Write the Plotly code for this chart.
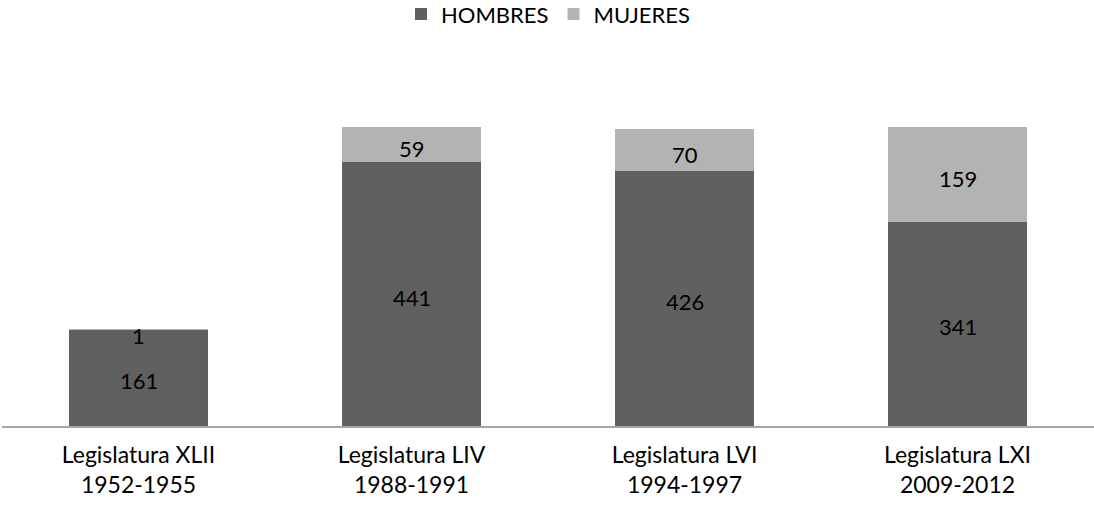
import plotly.graph_objects as go

categories = ["Legislatura XLII<br>1952-1955", "Legislatura LIV<br>1988-1991",
              "Legislatura LVI<br>1994-1997", "Legislatura LXI<br>2009-2012"]
hombres = [161, 441, 426, 341]
mujeres = [1, 59, 70, 159]

DARK = "#606060"
LIGHT = "#b3b3b3"
FONT = "Lato"

fig = go.Figure()
fig.add_trace(go.Bar(x=categories, y=hombres, name="HOMBRES", marker_color=DARK,
                     marker_line_width=0, width=0.51, hoverinfo="skip"))
fig.add_trace(go.Bar(x=categories, y=mujeres, name="MUJERES", marker_color=LIGHT,
                     marker_line_width=0, width=0.51, hoverinfo="skip"))

# value labels centred in each segment
for c, h, m in zip(categories, hombres, mujeres):
    fig.add_annotation(x=c, y=h / 2, text=str(h), showarrow=False, yshift=-3,
                       font=dict(family=FONT, size=22, color="#000000"))
    fig.add_annotation(x=c, y=h + m / 2, text=str(m), showarrow=False,
                       yshift=-6 if m < 10 else -4,
                       font=dict(family=FONT, size=22, color="#000000"))

fig.update_layout(
    width=1094, height=508,
    barmode="stack",
    paper_bgcolor="white", plot_bgcolor="white",
    margin=dict(l=2, r=0, t=67, b=82),
    font=dict(family=FONT, size=22, color="#000000"),
    legend=dict(orientation="h", x=0.5, xanchor="center", y=0.972, yanchor="middle",
                yref="container", traceorder="normal",
                font=dict(family=FONT, size=22, color="#000000"),
                itemwidth=30),
    xaxis=dict(showline=True, linecolor="#a6a6a6", linewidth=1.5, ticks="",
               showgrid=False, ticklabelstandoff=8,
               tickfont=dict(family=FONT, size=23, color="#000000")),
    yaxis=dict(range=[0, 600], visible=False, showgrid=False, zeroline=False),
)

fig.write_html("out.html", config={"displayModeBar": False},
               post_script="document.body.style.margin='0';")
